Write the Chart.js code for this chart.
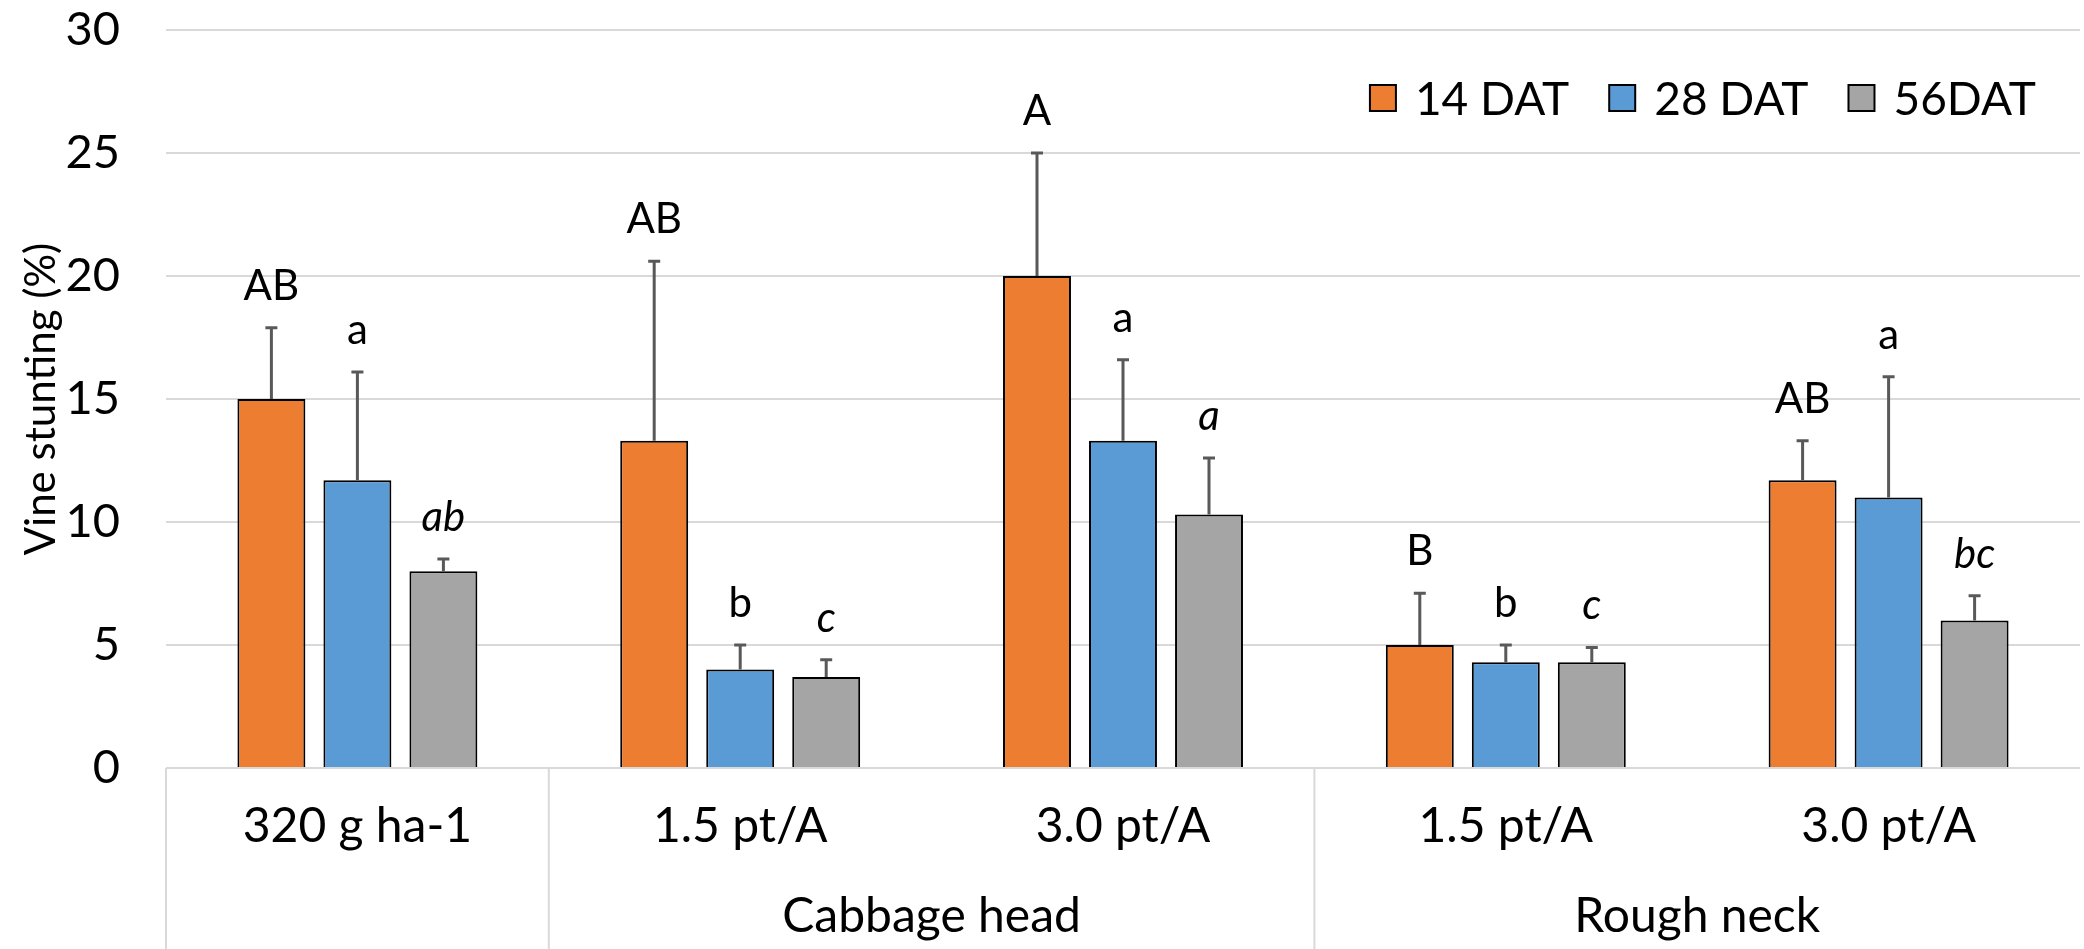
<!DOCTYPE html>
<html>
<head>
<meta charset="utf-8">
<script src="https://cdn.jsdelivr.net/npm/chart.js@4.4.1/dist/chart.umd.min.js"></script>
<style>
  html, body { margin: 0; padding: 0; background: #fff; }
  #wrap { width: 2084px; height: 949px; position: relative; }
</style>
</head>
<body>
<div id="wrap"><canvas id="stuntChart"></canvas></div>
<script>
// inner category labels + outer groups
const categories = ["320 g ha-1", "1.5 pt/A", "3.0 pt/A", "1.5 pt/A", "3.0 pt/A"];
const groupNames = ["", "Cabbage head", "Rough neck"];
const groupSizes = [1, 2, 2];

const seriesNames = ["14 DAT", "28 DAT", "56DAT"];
const dat14 = [15.0, 13.3, 20.0, 5.0, 11.7];
const dat28 = [11.7, 4.0, 13.3, 4.3, 11.0];
const dat56 = [8.0, 3.7, 10.3, 4.3, 6.0];

// upper error bars
const err14 = [2.9, 7.3, 5.0, 2.1, 1.6];
const err28 = [4.4, 1.0, 3.3, 0.7, 4.9];
const err56 = [0.5, 0.7, 2.3, 0.6, 1.0];

// mean separation letters
const let14 = ["AB", "AB", "A", "B", "AB"];
const let28 = ["a", "b", "a", "b", "a"];
const let56 = ["ab", "c", "a", "c", "bc"];

const yTicks = [0, 5, 10, 15, 20, 25, 30];

const FONT = "Lato, 'Open Sans', sans-serif";
const COLORS = ["#ED7D31", "#5B9BD5", "#A5A5A5"];
const errors = [err14, err28, err56];
const letters = [let14, let28, let56];
const italicLetters = [false, false, true];

// error bars + letters above them
const errorBarPlugin = {
    id: "errorBars",
    afterDatasetsDraw(chart) {
        const ctx = chart.ctx;
        const y = chart.scales.y;
        chart.data.datasets.forEach((ds, d) => {
            const meta = chart.getDatasetMeta(d);
            meta.data.forEach((bar, i) => {
                const top = y.getPixelForValue(ds.data[i] + errors[d][i]);
                ctx.save();
                ctx.strokeStyle = "#595959";
                ctx.lineWidth = 3;
                ctx.beginPath();
                ctx.moveTo(bar.x, bar.y);
                ctx.lineTo(bar.x, top);
                ctx.moveTo(bar.x - 6, top);
                ctx.lineTo(bar.x + 6, top);
                ctx.stroke();

                ctx.fillStyle = "#000";
                ctx.font = (italicLetters[d] ? "italic " : "") + "42px " + FONT;
                ctx.textAlign = "center";
                ctx.textBaseline = "alphabetic";
                ctx.fillText(letters[d][i], bar.x, top - 28);
                ctx.restore();
            });
        });
    }
};

// two-level category axis: separators and outer group labels
const groupAxisPlugin = {
    id: "groupAxis",
    afterDraw(chart) {
        const ctx = chart.ctx;
        const x = chart.scales.x;
        const top = chart.chartArea.bottom;
        const bottom = chart.height;
        ctx.save();
        ctx.strokeStyle = "#d9d9d9";
        ctx.lineWidth = 2;
        let start = 0;
        groupSizes.forEach((n, g) => {
            const left = x.getPixelForValue(start - 0.5);
            const right = x.getPixelForValue(start + n - 0.5);
            ctx.beginPath();
            ctx.moveTo(left, top);
            ctx.lineTo(left, bottom);
            ctx.stroke();
            if (groupNames[g]) {
                ctx.fillStyle = "#000";
                ctx.font = "48px " + FONT;
                ctx.textAlign = "center";
                ctx.textBaseline = "alphabetic";
                ctx.fillText(groupNames[g], (left + right) / 2, 932);
            }
            start += n;
        });
        ctx.restore();
    }
};

// legend floating inside the plot, top right
const legendPlugin = {
    id: "floatLegend",
    afterDraw(chart) {
        const ctx = chart.ctx;
        ctx.save();
        ctx.font = "46px " + FONT;
        ctx.textBaseline = "middle";
        ctx.textAlign = "left";
        const box = 26, gapText = 19, gapItem = 40;
        const widths = seriesNames.map(s => ctx.measureText(s).width);
        let total = 0;
        widths.forEach((w, i) => { total += box + gapText + w + (i < widths.length - 1 ? gapItem : 0); });
        let cx = chart.chartArea.right - 44 - total;
        const cy = 98;
        seriesNames.forEach((s, i) => {
            ctx.fillStyle = COLORS[i];
            ctx.fillRect(cx, cy - box / 2, box, box);
            ctx.strokeStyle = "#000";
            ctx.lineWidth = 2;
            ctx.strokeRect(cx, cy - box / 2, box, box);
            ctx.fillStyle = "#000";
            ctx.fillText(s, cx + box + gapText, cy + 2);
            cx += box + gapText + widths[i] + gapItem;
        });
        ctx.restore();
    }
};

const seriesData = [dat14, dat28, dat56];

new Chart(document.getElementById("stuntChart"), {
    type: "bar",
    data: {
        labels: categories,
        datasets: seriesNames.map((name, i) => ({
            label: name,
            data: seriesData[i],
            backgroundColor: COLORS[i],
            borderColor: "#000",
            borderWidth: 2,
            categoryPercentage: 0.674,
            barPercentage: 0.79
        }))
    },
    options: {
        responsive: true,
        maintainAspectRatio: false,
        animation: false,
        layout: { padding: { top: 30, right: 4, left: 0, bottom: 0 } },
        plugins: {
            legend: { display: false },
            tooltip: { enabled: false }
        },
        scales: {
            x: {
                grid: { display: false, drawTicks: false },
                border: { display: false },
                ticks: {
                    color: "#000",
                    font: { family: FONT, size: 48 },
                    padding: 30,
                    maxRotation: 0,
                    autoSkip: false
                },
                afterFit(scale) { scale.height = 181; }
            },
            y: {
                min: 0,
                max: 30,
                afterBuildTicks(scale) { scale.ticks = yTicks.map(v => ({ value: v })); },
                grid: { color: "#d9d9d9", lineWidth: 2, drawTicks: false },
                border: { display: false },
                ticks: {
                    color: "#000",
                    font: { family: FONT, size: 47 },
                    padding: 46
                },
                title: {
                    display: true,
                    text: "Vine stunting (%)",
                    color: "#000",
                    font: { family: FONT, size: 42 },
                    padding: { top: 16, bottom: 0 }
                },
                afterFit(scale) {
                    scale.width = 166;
                    scale.paddingTop = 0;
                    scale.paddingBottom = 0;
                }
            }
        }
    },
    plugins: [errorBarPlugin, groupAxisPlugin, legendPlugin]
});
</script>
</body>
</html>
